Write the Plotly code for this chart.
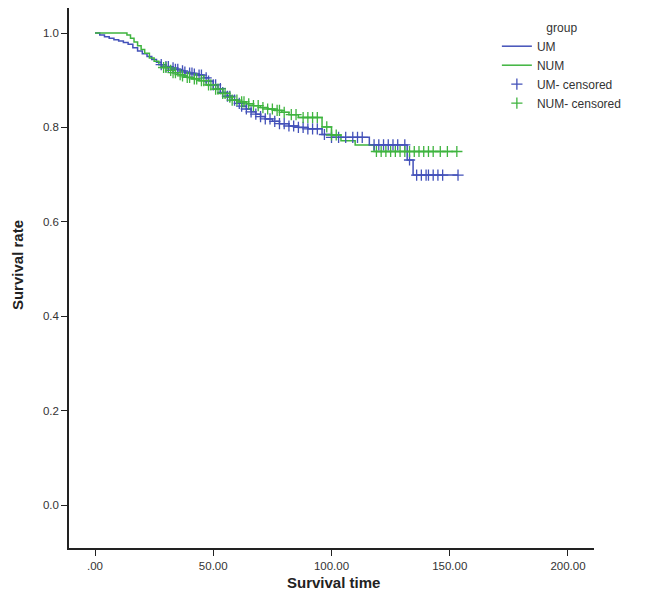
import plotly.graph_objects as go
import bisect

# Kaplan-Meier step data (time, survival after event)
um_t = [0, 2, 4, 6, 8, 10, 12, 14, 16, 18, 20, 22, 24, 26, 28, 30, 32, 34, 36, 38, 40, 42, 44, 46, 48, 50,
        52, 54, 56, 58, 60, 62, 64, 66, 68, 70, 72, 75, 78, 82, 86, 90, 96, 100, 116, 132, 134.5]
um_s = [1.0, 0.996, 0.992, 0.989, 0.986, 0.983, 0.980, 0.976, 0.969, 0.962, 0.956, 0.950, 0.944, 0.938,
        0.933, 0.929, 0.926, 0.923, 0.920, 0.917, 0.915, 0.913, 0.911, 0.905, 0.898, 0.890, 0.882, 0.874,
        0.866, 0.858, 0.851, 0.845, 0.839, 0.833, 0.828, 0.823, 0.818, 0.813, 0.808, 0.803, 0.800, 0.797,
        0.785, 0.779, 0.763, 0.731, 0.699]
um_end = 153.5

num_t = [0, 13.5, 15, 16.5, 18, 19.5, 21, 23, 25, 27, 29, 31, 33, 35, 37, 39, 41, 44, 47, 50, 53, 56, 58,
         61, 64, 67, 70, 73, 76, 79, 82, 86, 96, 100, 104, 110, 118]
num_s = [1.0, 0.996, 0.989, 0.981, 0.973, 0.965, 0.957, 0.947, 0.940, 0.933, 0.927, 0.921, 0.916, 0.912,
         0.909, 0.906, 0.903, 0.899, 0.890, 0.881, 0.872, 0.864, 0.858, 0.854, 0.850, 0.846, 0.842, 0.839,
         0.836, 0.832, 0.827, 0.821, 0.801, 0.784, 0.772, 0.763, 0.749]
num_end = 153

um_cens = [28, 30, 31, 33, 34, 35, 37, 38, 40, 41, 42, 44, 45, 47, 48, 50, 51, 53, 54, 56, 57, 59, 61, 62,
           64, 66, 68, 70, 72, 74, 76, 78, 80, 82, 84, 86, 88, 90, 92, 94, 97, 100, 103, 106, 109, 111, 113,
           118, 120, 122, 124, 126, 128, 131, 133, 136, 138, 140, 141, 143, 145, 147, 153.5]
num_cens = [29, 30, 32, 33, 34, 36, 37, 39, 40, 42, 43, 45, 46, 48, 49, 51, 52, 54, 55, 57, 58, 60, 62, 63,
            65, 67, 69, 71, 73, 75, 77, 78, 80, 83, 85, 88, 90, 92, 94, 98, 100, 102, 119, 121, 123, 125,
            127, 129, 131, 133, 135, 137, 139, 141, 143, 146, 149, 153]

x_ticks = [0, 50, 100, 150, 200]
x_labels = [".00", "50.00", "100.00", "150.00", "200.00"]
y_ticks = [0.0, 0.2, 0.4, 0.6, 0.8, 1.0]
y_labels = ["0.0", "0.2", "0.4", "0.6", "0.8", "1.0"]

BLUE = "#4351b9"
GREEN = "#3fb43f"


def surv_at(ts, ss, t):
    i = bisect.bisect_right(ts, t) - 1
    return ss[max(i, 0)]


fig = go.Figure()
fig.add_trace(go.Scatter(x=um_t + [um_end], y=um_s + [um_s[-1]], mode="lines", line_shape="hv",
                         line=dict(color=BLUE, width=1.5), name="UM"))
fig.add_trace(go.Scatter(x=num_t + [num_end], y=num_s + [num_s[-1]], mode="lines", line_shape="hv",
                         line=dict(color=GREEN, width=1.5), name="NUM"))
fig.add_trace(go.Scatter(x=um_cens, y=[surv_at(um_t, um_s, t) for t in um_cens], mode="markers",
                         marker=dict(symbol="cross-thin", size=8, line=dict(color=BLUE, width=1.3)),
                         name="UM- censored"))
fig.add_trace(go.Scatter(x=num_cens, y=[surv_at(num_t, num_s, t) for t in num_cens], mode="markers",
                         marker=dict(symbol="cross-thin", size=8, line=dict(color=GREEN, width=1.3)),
                         name="NUM- censored"))

fig.update_layout(
    width=646, height=591,
    margin=dict(l=61, r=60, t=0, b=51, autoexpand=False),
    paper_bgcolor="white", plot_bgcolor="white",
    font=dict(family="Liberation Sans, Arial, sans-serif", color="#333333", size=12),
    legend=dict(x=0.815, y=0.985, xanchor="left", yanchor="top",
                title=dict(text="group", side="top center", font=dict(size=12)),
                font=dict(size=12, color="#333333"), itemwidth=30, tracegroupgap=0,
                bgcolor="rgba(0,0,0,0)"),
    showlegend=True,
    annotations=[
        dict(text="<b>Survival time</b>", xref="paper", yref="paper", x=0.503, y=-34 / 540,
             xanchor="center", yanchor="middle", showarrow=False, font=dict(size=15, color="#222222")),
        dict(text="<b>Survival rate</b>", xref="paper", yref="paper", x=-0.099, y=0.524,
             xanchor="center", yanchor="middle", showarrow=False, textangle=-90,
             font=dict(size=15, color="#222222")),
    ],
)
fig.update_xaxes(range=[-11, 211], tickvals=x_ticks, ticktext=x_labels, showgrid=False, zeroline=False,
                 showline=True, linecolor="#222222", linewidth=1.5, ticks="outside", ticklen=6,
                 tickcolor="#222222", tickwidth=1.2, automargin=False, tickfont=dict(size=11.5))
fig.update_yaxes(range=[-0.091, 1.053], tickvals=y_ticks, ticktext=y_labels, showgrid=False, zeroline=False,
                 showline=True, linecolor="#222222", linewidth=1.5, ticks="outside", ticklen=6,
                 tickcolor="#222222", tickwidth=1.2, automargin=False, tickfont=dict(size=11.5))

fig.write_html("out.html")
